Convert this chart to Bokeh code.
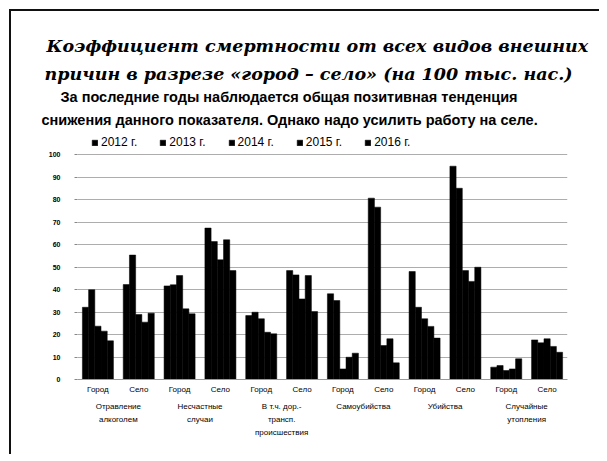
from bokeh.plotting import figure
from bokeh.models import (FactorRange, Range1d, Legend, LegendItem, Title,
                          ColumnDataSource)
from bokeh.transform import dodge
from bokeh.embed import file_html
from bokeh.resources import INLINE

groups = ["Отравление\nалкоголем", "Несчастные\nслучаи",
          "В т.ч. дор.-\nтрансп.\nпроисшествия", "Самоубийства",
          "Убийства", "Случайные\nутопления"]
subs = ["Город", "Село"]
years = ["2012 г.", "2013 г.", "2014 г.", "2015 г.", "2016 г."]

v2012 = [32.1, 42.2, 41.6, 67.3, 28.4, 48.4, 38.1, 80.6, 48.0, 94.8, 5.5, 17.6]
v2013 = [39.9, 55.3, 42.1, 61.3, 29.9, 46.5, 35.1, 76.6, 32.1, 85.0, 6.2, 16.3]
v2014 = [23.7, 28.9, 46.2, 53.2, 27.0, 35.8, 4.7, 15.1, 27.0, 48.4, 4.0, 18.1]
v2015 = [21.5, 25.5, 31.4, 62.1, 21.0, 46.2, 9.9, 18.1, 23.6, 43.6, 4.7, 14.7]
v2016 = [17.2, 29.5, 29.2, 48.4, 20.3, 30.2, 11.7, 7.4, 18.4, 49.9, 9.2, 12.1]
y_ticks = [0, 10, 20, 30, 40, 50, 60, 70, 80, 90, 100]

title_lines = ["Коэффициент смертности от всех видов внешних",
               "причин в разрезе «город – село» (на 100 тыс. нас.)"]
subtitle_lines = ["За последние годы наблюдается общая позитивная тенденция",
                  "снижения данного показателя. Однако надо усилить работу на селе."]

factors = [(g, s) for g in groups for s in subs]
cols = ["y0", "y1", "y2", "y3", "y4"]
src = ColumnDataSource(dict(x=factors, y0=v2012, y1=v2013, y2=v2014,
                            y3=v2015, y4=v2016))

H = 445
TOP = 120
BOTTOM = 77
frame_h = H - TOP - BOTTOM
p = figure(width=590, height=H, title=None,
           x_range=FactorRange(factors=factors, range_padding=0,
                               group_padding=0, subgroup_padding=0),
           y_range=Range1d(0, frame_h / 2.25),
           output_backend="svg", toolbar_location=None,
           min_border_left=66, min_border_right=34,
           min_border_top=TOP, min_border_bottom=BOTTOM)
p.styles = {"border-top": "2px solid #111", "border-left": "2px solid #111",
            "margin-top": "9px", "margin-left": "9px"}
p.outline_line_color = None
p.background_fill_color = "white"
p.border_fill_color = "white"

# heading: first added sits nearest the plot
heading = [
    (subtitle_lines[1], "Liberation Sans", "bold", "14.5px", -36, 8),
    (subtitle_lines[0], "Liberation Sans", "bold", "14.5px", -17, 2),
    (title_lines[1], "DejaVu Serif", "bold italic", "17.5px", -33, 3),
    (title_lines[0], "DejaVu Serif", "bold italic", "17.5px", -31, 9),
]
for txt, fnt, sty, size, off, so in heading:
    p.add_layout(Title(text=txt, align="left", offset=off, standoff=so,
                       text_font=fnt, text_font_style=sty,
                       text_font_size=size, text_color="black"), "above")

bw = 0.152
offsets = [-2 * bw, -bw, 0, bw, 2 * bw]
items = []
for col, off, yr in zip(cols, offsets, years):
    r = p.vbar(x=dodge("x", off, range=p.x_range), top=col, width=bw,
               source=src, fill_color="black", line_color="black",
               line_width=0.5)
    items.append(LegendItem(label=yr, renderers=[r]))

legend = Legend(items=items, orientation="horizontal", location=(14, 230),
                padding=0, margin=0, spacing=22, label_standoff=3,
                glyph_width=7, glyph_height=7, label_height=12,
                label_text_font="Liberation Sans", label_text_font_size="12px",
                label_text_color="black", border_line_color=None,
                background_fill_alpha=0)
p.add_layout(legend)

p.yaxis.ticker = y_ticks
p.yaxis.axis_line_color = None
p.yaxis.major_tick_line_color = "#888"
p.yaxis.major_tick_in = 0
p.yaxis.major_tick_out = 3
p.yaxis.minor_tick_line_color = None
p.yaxis.major_label_standoff = 14
p.yaxis.major_label_text_font = "Liberation Sans"
p.yaxis.major_label_text_font_style = "bold"
p.yaxis.major_label_text_font_size = "7px"
p.yaxis.major_label_text_color = "black"

p.xaxis.axis_line_color = "#999"
p.xaxis.major_tick_line_color = None
p.xaxis.major_tick_out = 0
p.xaxis.minor_tick_line_color = None
p.xaxis.separator_line_alpha = 0
p.xaxis.major_label_text_font = "Liberation Sans"
p.xaxis.major_label_text_font_size = "8px"
p.xaxis.major_label_text_color = "black"
p.xaxis.major_label_standoff = 5
p.xaxis.group_text_font = "Liberation Sans"
p.xaxis.group_text_font_size = "8px"
p.xaxis.group_text_font_style = "normal"
p.xaxis.group_text_color = "black"
p.xaxis.group_text_line_height = 1.45

p.xgrid.grid_line_color = None
p.ygrid.grid_line_color = "#8a8a8a"
p.ygrid.grid_line_width = 1
p.ygrid.grid_line_alpha = 0.7

open("out.html", "w").write(file_html(p, INLINE))
